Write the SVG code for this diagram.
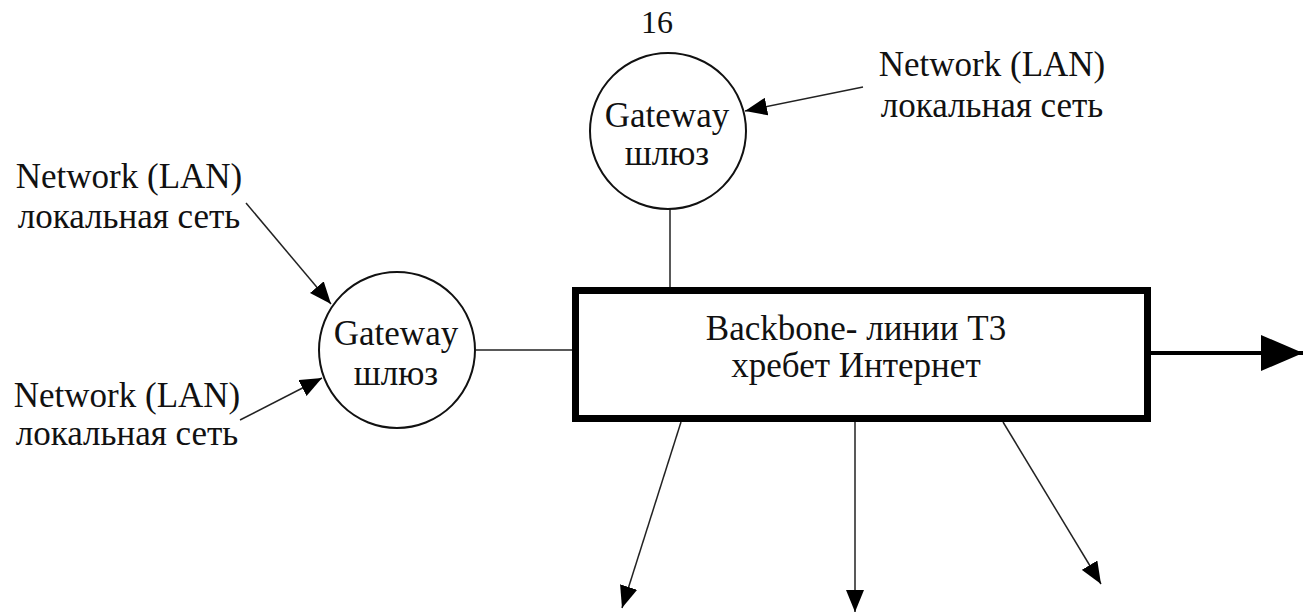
<svg xmlns="http://www.w3.org/2000/svg" width="1312" height="613" viewBox="0 0 1312 613">
<style>
text{font-family:"Liberation Serif","Times New Roman",serif;font-size:35px;fill:#111;text-anchor:middle}
.c{fill:#fff;stroke:#111;stroke-width:2}
.l{stroke:#222;stroke-width:1.5;fill:none}
</style>
<defs>
<marker id="a" markerUnits="userSpaceOnUse" markerWidth="22" markerHeight="18" refX="22" refY="9" orient="auto"><path d="M0,0 L22,9 L0,18 z" fill="#000"/></marker>
<marker id="b" markerUnits="userSpaceOnUse" markerWidth="42" markerHeight="36" refX="42" refY="18" orient="auto"><path d="M0,0 L42,18 L0,36 z" fill="#000"/></marker>
</defs>
<rect width="1312" height="613" fill="#fff"/>
<text x="657" y="33" style="font-size:32px">16</text>
<g id="connectors">
<line class="l" x1="670" y1="209" x2="670" y2="288"/>
<line class="l" x1="476" y1="350" x2="572" y2="350"/>
<line class="l" x1="863" y1="87" x2="745" y2="111" marker-end="url(#a)"/>
<line class="l" x1="246" y1="203" x2="331" y2="304" marker-end="url(#a)"/>
<line class="l" x1="240" y1="420" x2="322" y2="378" marker-end="url(#a)"/>
<line class="l" x1="681" y1="422" x2="622" y2="608" marker-end="url(#a)"/>
<line class="l" x1="855" y1="422" x2="855" y2="612" marker-end="url(#a)"/>
<line class="l" x1="1003" y1="422" x2="1101" y2="584" marker-end="url(#a)"/>
<line x1="1151" y1="353" x2="1303" y2="353" stroke="#000" stroke-width="4" marker-end="url(#b)"/>
</g>
<g id="gateway-top">
<circle class="c" cx="668" cy="131" r="78"/>
<text x="667" y="127">Gateway</text>
<text x="667" y="165">шлюз</text>
</g>
<g id="gateway-left">
<circle class="c" cx="397" cy="350" r="78"/>
<text x="396" y="345">Gateway</text>
<text x="396" y="385">шлюз</text>
</g>
<g id="backbone">
<rect x="575.5" y="290.5" width="572" height="128" fill="#fff" stroke="#000" stroke-width="7"/>
<text x="856" y="340">Backbone- линии Т3</text>
<text x="856" y="377">хребет Интернет</text>
</g>
<g id="lan-top">
<text x="992" y="76">Network (LAN)</text>
<text x="992" y="117">локальная сеть</text>
</g>
<g id="lan-left-1">
<text x="129" y="188">Network (LAN)</text>
<text x="129" y="228">локальная сеть</text>
</g>
<g id="lan-left-2">
<text x="127" y="407">Network (LAN)</text>
<text x="127" y="445">локальная сеть</text>
</g>
</svg>
